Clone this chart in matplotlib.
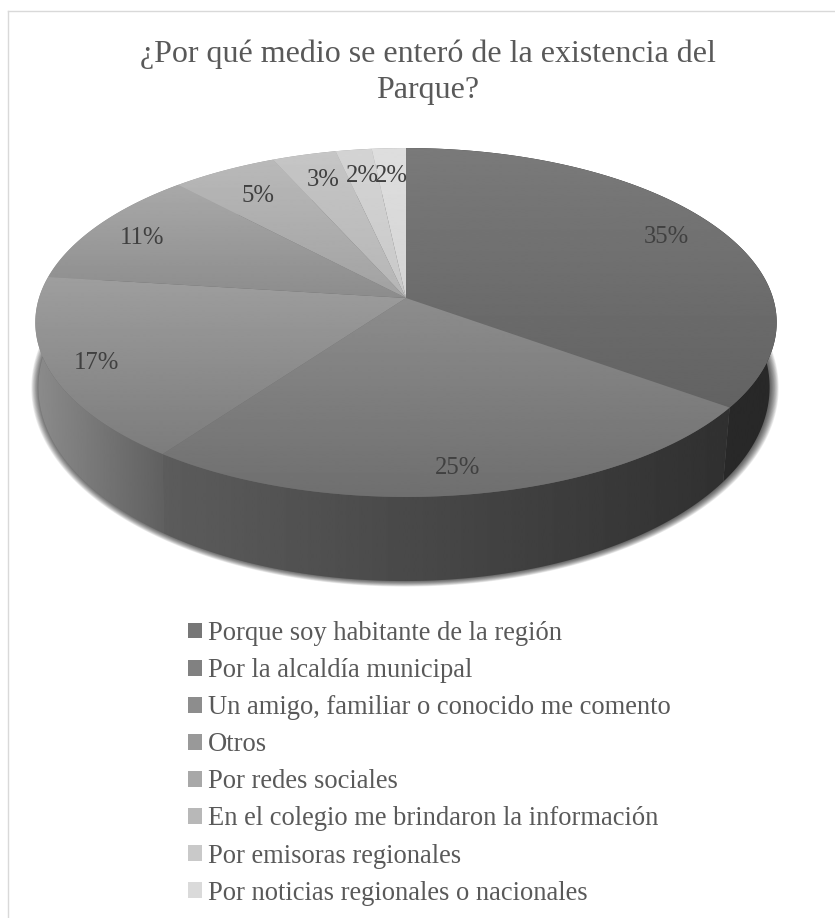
"""
Pie chart - ¿Por qué medio se enteró de la existencia del Parque?
"""

import numpy as np
import matplotlib
matplotlib.use('Agg')
import matplotlib.pyplot as plt
from matplotlib.patches import Polygon, Patch

# ── Data ──────────────────────────────────────────────────────
categories = [
    'Porque soy habitante de la región',
    'Por la alcaldía municipal',
    'Un amigo, familiar o conocido me comento',
    'Otros',
    'Por redes sociales',
    'En el colegio me brindaron la información',
    'Por emisoras regionales',
    'Por noticias regionales o nacionales',
]
values = [35, 25, 17, 11, 5.3, 3.2, 1.8, 1.7]
labels = ['35%', '25%', '17%', '11%', '5%', '3%', '2%', '2%']

# ── Styles ────────────────────────────────────────────────────
top_grays = [(122, 90), (163, 111), (183, 116), (178, 90),
             (187, 128), (198, 160), (212, 185), (222, 200)]
wall_grays = [(44, 40), (92, 48), (140, 96), (150, 138),
              (160, 150), (160, 150), (160, 150), (160, 150)]
legend_colors = ['#777777', '#818181', '#8d8d8d', '#999999',
                 '#a8a8a8', '#b8b8b8', '#c9c9c9', '#dadada']
label_pos = [(666, 237), (458, 468), (96, 363), (142, 238),
             (258, 196), (323, 180), (362, 176), (391, 176)]

plt.rcParams['font.family'] = ['Liberation Serif', 'DejaVu Serif']

# ── Perspective of the disc ───────────────────────────────────
K_PERSP = 0.1404

def rim(theta, cx, cy, a, b):
    w = 1 + K_PERSP * np.cos(theta)
    return cx + a * np.sin(theta) / w, cy - b * np.cos(theta) / w

def top_rim(theta):
    return rim(theta, 406, 298, 367, 171)

def low_rim(theta):
    return rim(theta, 404, 360, 362, 190)

def gradient(ax, poly, g0, g1, extent, horizontal):
    n = np.linspace(g0, g1, 256)
    img = n[None, :] if horizontal else n[:, None]
    im = ax.imshow(img, cmap='gray', vmin=0, vmax=255, extent=extent,
                   aspect='auto', interpolation='bilinear', zorder=poly.get_zorder())
    im.set_clip_path(poly)

# ── Figure ────────────────────────────────────────────────────
fig = plt.figure(figsize=(8.35, 9.18), dpi=100)
ax = fig.add_axes([0, 0, 1, 1])
ax.axis('off')

edges = np.radians(np.concatenate([[0], np.cumsum(values)]) * 3.6)

# soft shadow under the disc
full = np.linspace(0, 2 * np.pi, 361)
sx, sy = low_rim(full)
for grow in np.linspace(8, 0, 12):
    scale_x = (362 + grow) / 362
    scale_y = (190 + grow * 0.6) / 190
    xy = np.column_stack([404 + 1 + (sx - 404) * scale_x, 360 + (sy - 360) * scale_y])
    ax.add_patch(Polygon(xy, closed=True, fc='black', ec='none', alpha=0.07, zorder=1))

# side walls
for i in range(len(values)):
    th = np.linspace(edges[i], edges[i + 1], 120)
    tx, ty = top_rim(th)
    bx, by = low_rim(th)
    xy = np.column_stack([np.r_[tx, bx[::-1]], np.r_[ty, by[::-1]]])
    poly = Polygon(xy, closed=True, fc='none', ec='none', zorder=2)
    ax.add_patch(poly)
    g_left, g_right = wall_grays[i]
    gradient(ax, poly, g_left, g_right, (xy[:, 0].min(), xy[:, 0].max(), 0, 918), True)

# top face
for i in range(len(values)):
    th = np.linspace(edges[i], edges[i + 1], 120)
    tx, ty = top_rim(th)
    xy = np.column_stack([np.r_[406, tx], np.r_[298, ty]])
    poly = Polygon(xy, closed=True, fc='none', ec='none', zorder=3)
    ax.add_patch(poly)
    g_top, g_bot = top_grays[i]
    gradient(ax, poly, g_top, g_bot, (0, 835, 497, 148), False)

for (x, y), text in zip(label_pos, labels):
    ax.text(x, y, text, ha='center', va='center', fontsize=17.7,
            color='#404040', zorder=5)

ax.set_xlim(0, 835)
ax.set_ylim(918, 0)

fig.text(427.5 / 835, 1 - 62 / 918, '¿Por qué medio se enteró de la existencia del',
         ha='center', va='baseline', fontsize=23, color='#595959')
fig.text(427.5 / 835, 1 - 98 / 918, 'Parque?',
         ha='center', va='baseline', fontsize=23, color='#595959')

handles = [Patch(fc=c, ec='none', label=t) for c, t in zip(legend_colors, categories)]
ax.legend(handles=handles, loc='upper left', bbox_to_anchor=(188 / 835, 1 - 621 / 918),
          frameon=False, fontsize=19.1, labelcolor='#595959', labelspacing=0.456,
          handlelength=0.53, handleheight=0.53, handletextpad=0.23,
          borderpad=0, borderaxespad=0)

# chart border
ax.plot([8, 8], [918, 11], color='#d9d9d9', lw=1, zorder=0)
ax.plot([8, 835], [11, 11], color='#d9d9d9', lw=1, zorder=0)

fig.savefig('out.png', dpi=100, facecolor='white')
plt.close()
